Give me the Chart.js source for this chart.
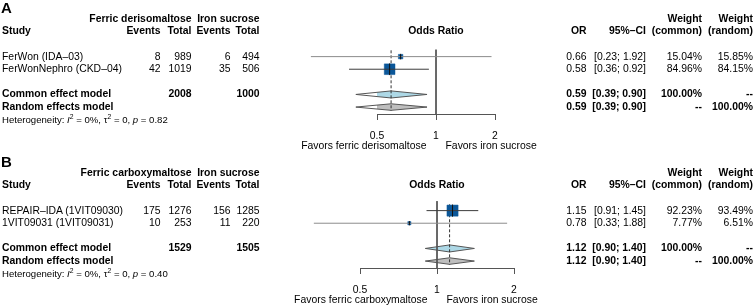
<!DOCTYPE html>
<html>
<head>
<meta charset="utf-8">
<script src="https://cdn.jsdelivr.net/npm/chart.js@4.4.1/dist/chart.umd.min.js"></script>
<style>
  body { margin: 0; width: 755px; height: 307px; background: #fff; position: relative; overflow: hidden;
         font-family: "Liberation Sans", Arial, sans-serif; font-size: 10.4px; color: #000; }
  .panel { position: absolute; left: 0; width: 755px; height: 153px; }
  .panel canvas { position: absolute; left: 0; top: 0; }
  .t { position: absolute; white-space: nowrap; line-height: 1; transform: translateY(-50%); }
  .r { transform: translate(-100%, -50%); }
  .c { transform: translate(-50%, -50%); }
  .b { font-weight: bold; }
  .big { font-size: 15px; font-weight: bold; }
  .het { font-size: 9.6px; }
  .het sup { font-size: 6.8px; vertical-align: 0; position: relative; top: -4px; }
</style>
</head>
<body>
<script>
// ---- panel A: ferric derisomaltose vs iron sucrose ----
const studiesA = ['FerWon (IDA–03)', 'FerWonNephro (CKD–04)'];
const eventsExpA = [8, 42];
const totalExpA = [989, 1019];
const eventsCtrlA = [6, 35];
const totalCtrlA = [494, 506];
const orA = [0.66, 0.58];
const ciLoA = [0.23, 0.36];
const ciHiA = [1.92, 0.92];
const wCommonA = [15.04, 84.96];
const wRandomA = [15.85, 84.15];
const commonA = [0.59, 0.39, 0.90];   // OR, lower, upper
const randomA = [0.59, 0.39, 0.90];
const hetA = ['0%', '0', '0.82'];     // I2, tau2, p

// ---- panel B: ferric carboxymaltose vs iron sucrose ----
const studiesB = ['REPAIR–IDA (1VIT09030)', '1VIT09031 (1VIT09031)'];
const eventsExpB = [175, 10];
const totalExpB = [1276, 253];
const eventsCtrlB = [156, 11];
const totalCtrlB = [1285, 220];
const orB = [1.15, 0.78];
const ciLoB = [0.91, 0.33];
const ciHiB = [1.45, 1.88];
const wCommonB = [92.23, 7.77];
const wRandomB = [93.49, 6.51];
const commonB = [1.12, 0.90, 1.40];
const randomB = [1.12, 0.90, 1.40];
const hetB = ['0%', '0', '0.40'];

const tickValues = [0.5, 1, 2];

const FONT = '"Liberation Sans", Arial, sans-serif';
const COL = { study: 2, ev1: 160.5, tot1: 191.5, ev2: 230.5, tot2: 259.5, or: 586.5, ci: 646, wc: 702, wr: 753 };

const panels = [
    {
        letter: 'A', top: 0, left: 377, right: 495, refTop: 0.45,
        groups: ['Ferric derisomaltose', 'Iron sucrose'],
        favors: ['Favors ferric derisomaltose', 'Favors iron sucrose'],
        studies: studiesA, evE: eventsExpA, totE: totalExpA, evC: eventsCtrlA, totC: totalCtrlA,
        or: orA, lo: ciLoA, hi: ciHiA, wc: wCommonA, wr: wRandomA, common: commonA, random: randomA, het: hetA,
        lineColors: ['#8c8c8c', '#3c3c3c']
    },
    {
        letter: 'B', top: 154, left: 360, right: 514, refTop: 0.25,
        groups: ['Ferric carboxymaltose', 'Iron sucrose'],
        favors: ['Favors ferric carboxymaltose', 'Favors iron sucrose'],
        studies: studiesB, evE: eventsExpB, totE: totalExpB, evC: eventsCtrlB, totC: totalCtrlB,
        or: orB, lo: ciLoB, hi: ciHiB, wc: wCommonB, wr: wRandomB, common: commonB, random: randomB, het: hetB,
        lineColors: ['#3c3c3c', '#8c8c8c']
    }
];

function put(parent, x, y, html, cls) {
    const el = document.createElement('div');
    el.className = 't ' + (cls || '');
    el.style.left = x + 'px';
    el.style.top = y + 'px';
    el.innerHTML = html;
    parent.appendChild(el);
}

const fmt = v => v.toFixed(2);
const ciText = (lo, hi) => '[' + fmt(lo) + '; ' + fmt(hi) + ']';

function diamond(est, lo, hi, row, h) {
    return [{x: lo, y: row}, {x: est, y: row - h}, {x: hi, y: row}, {x: est, y: row + h}, {x: lo, y: row}];
}

panels.forEach(p => {
    const holder = document.createElement('div');
    holder.className = 'panel';
    holder.style.top = p.top + 'px';
    document.body.appendChild(holder);
    const canvas = document.createElement('canvas');
    canvas.width = 755;
    canvas.height = 153;
    holder.appendChild(canvas);

    const rows = p.or.map((v, i) => i + 1);
    const commonRow = 4, randomRow = 5, axisRow = 5.55;
    const boxRadius = p.wc.map(w => 8.2 * Math.sqrt(w / 100));
    const datasets = [];

    // summary diamonds
    datasets.push({
        data: diamond(p.common[0], p.common[1], p.common[2], commonRow, 0.28),
        showLine: true, fill: 'shape', backgroundColor: '#add8e6', borderColor: '#555', borderWidth: 1,
        pointRadius: 0, tension: 0, order: 6, clip: false
    });
    datasets.push({
        data: diamond(p.random[0], p.random[1], p.random[2], randomRow, 0.26),
        showLine: true, fill: 'shape', backgroundColor: '#bebebe', borderColor: '#555', borderWidth: 1,
        pointRadius: 0, tension: 0, order: 6, clip: false
    });
    // line of no effect
    datasets.push({
        data: [{x: 1, y: p.refTop}, {x: 1, y: axisRow}],
        showLine: true, borderColor: '#555', borderWidth: 1, pointRadius: 0, order: 5, clip: false
    });
    // pooled estimate (dashed)
    datasets.push({
        data: [{x: p.common[0], y: 0.5}, {x: p.common[0], y: 5.3}],
        showLine: true, borderColor: '#333', borderWidth: 1, borderDash: [3, 2], pointRadius: 0, order: 4, clip: false
    });
    // study squares
    datasets.push({
        data: p.or.map((v, i) => ({x: v, y: rows[i]})),
        pointStyle: 'rect', pointRadius: boxRadius,
        backgroundColor: '#0b5799', borderColor: '#0b5799', borderWidth: 0.5, order: 3, clip: false
    });
    // confidence intervals
    p.or.forEach((v, i) => {
        datasets.push({
            data: [{x: p.lo[i], y: rows[i]}, {x: p.hi[i], y: rows[i]}],
            showLine: true, borderColor: p.lineColors[i], borderWidth: 1, pointRadius: 0, order: 2, clip: false
        });
    });
    // point estimate marks
    datasets.push({
        data: p.or.map((v, i) => ({x: v, y: rows[i]})),
        pointStyle: 'line', rotation: 90, pointRadius: boxRadius.map(r => r * Math.SQRT1_2 + 0.5),
        borderColor: '#111', borderWidth: 1, order: 1, clip: false
    });

    const chart = new Chart(canvas.getContext('2d'), {
        type: 'scatter',
        data: { datasets },
        options: {
            responsive: false,
            animation: false,
            events: [],
            layout: { padding: { left: p.left, right: 755 - p.right, top: 44, bottom: 0 } },
            plugins: { legend: { display: false }, tooltip: { enabled: false } },
            scales: {
                x: {
                    type: 'logarithmic', min: 0.5, max: 2, position: 'bottom',
                    afterBuildTicks: s => { s.ticks = tickValues.map(v => ({value: v})); },
                    afterFit: s => { s.height = 39; },
                    ticks: { callback: v => String(v), color: '#000', font: { family: FONT, size: 10.4 },
                             padding: 9.5, maxRotation: 0, autoSkip: false },
                    grid: { drawOnChartArea: false, drawTicks: true, tickLength: 6, color: '#555' },
                    border: { color: '#555', width: 1 }
                },
                y: { type: 'linear', reverse: true, min: 0, max: axisRow, display: false }
            }
        }
    });

    const ys = chart.scales.y, xs = chart.scales.x;
    const Y = r => ys.getPixelForValue(r);
    const x1 = xs.getPixelForValue(1);

    // headers
    put(holder, 1, Y(-2.9), p.letter, 'big');
    put(holder, COL.tot1, Y(-2), p.groups[0], 'b r');
    put(holder, COL.tot2, Y(-2), p.groups[1], 'b r');
    put(holder, COL.study, Y(-1), 'Study', 'b');
    put(holder, COL.ev1, Y(-1), 'Events', 'b r');
    put(holder, COL.tot1, Y(-1), 'Total', 'b r');
    put(holder, COL.ev2, Y(-1), 'Events', 'b r');
    put(holder, COL.tot2, Y(-1), 'Total', 'b r');
    put(holder, x1, Y(-1), 'Odds Ratio', 'b c');
    put(holder, COL.or, Y(-1), 'OR', 'b r');
    put(holder, COL.ci, Y(-1), '95%–CI', 'b r');
    put(holder, COL.wc, Y(-2), 'Weight', 'b r');
    put(holder, COL.wc, Y(-1), '(common)', 'b r');
    put(holder, COL.wr, Y(-2), 'Weight', 'b r');
    put(holder, COL.wr, Y(-1), '(random)', 'b r');

    // study rows
    p.studies.forEach((s, i) => {
        const y = Y(rows[i]);
        put(holder, COL.study, y, s);
        put(holder, COL.ev1, y, p.evE[i], 'r');
        put(holder, COL.tot1, y, p.totE[i], 'r');
        put(holder, COL.ev2, y, p.evC[i], 'r');
        put(holder, COL.tot2, y, p.totC[i], 'r');
        put(holder, COL.or, y, fmt(p.or[i]), 'r');
        put(holder, COL.ci, y, ciText(p.lo[i], p.hi[i]), 'r');
        put(holder, COL.wc, y, fmt(p.wc[i]) + '%', 'r');
        put(holder, COL.wr, y, fmt(p.wr[i]) + '%', 'r');
    });

    // pooled rows
    const sum = a => a.reduce((s, v) => s + v, 0);
    let y = Y(commonRow);
    put(holder, COL.study, y, 'Common effect model', 'b');
    put(holder, COL.tot1, y, sum(p.totE), 'b r');
    put(holder, COL.tot2, y, sum(p.totC), 'b r');
    put(holder, COL.or, y, fmt(p.common[0]), 'b r');
    put(holder, COL.ci, y, ciText(p.common[1], p.common[2]), 'b r');
    put(holder, COL.wc, y, '100.00%', 'b r');
    put(holder, COL.wr, y, '--', 'b r');
    y = Y(randomRow);
    put(holder, COL.study, y, 'Random effects model', 'b');
    put(holder, COL.or, y, fmt(p.random[0]), 'b r');
    put(holder, COL.ci, y, ciText(p.random[1], p.random[2]), 'b r');
    put(holder, COL.wc, y, '--', 'b r');
    put(holder, COL.wr, y, '100.00%', 'b r');
    put(holder, COL.study, Y(6), 'Heterogeneity: <i>I</i><sup>2</sup> = ' + p.het[0] +
        ', τ<sup>2</sup> = ' + p.het[1] + ', <i>p</i> = ' + p.het[2], 'het');

    // favours labels under the axis
    put(holder, x1 - 9.5, Y(8.1), p.favors[0], 'r');
    put(holder, x1 + 9.5, Y(8.1), p.favors[1]);
});
</script>
</body>
</html>
